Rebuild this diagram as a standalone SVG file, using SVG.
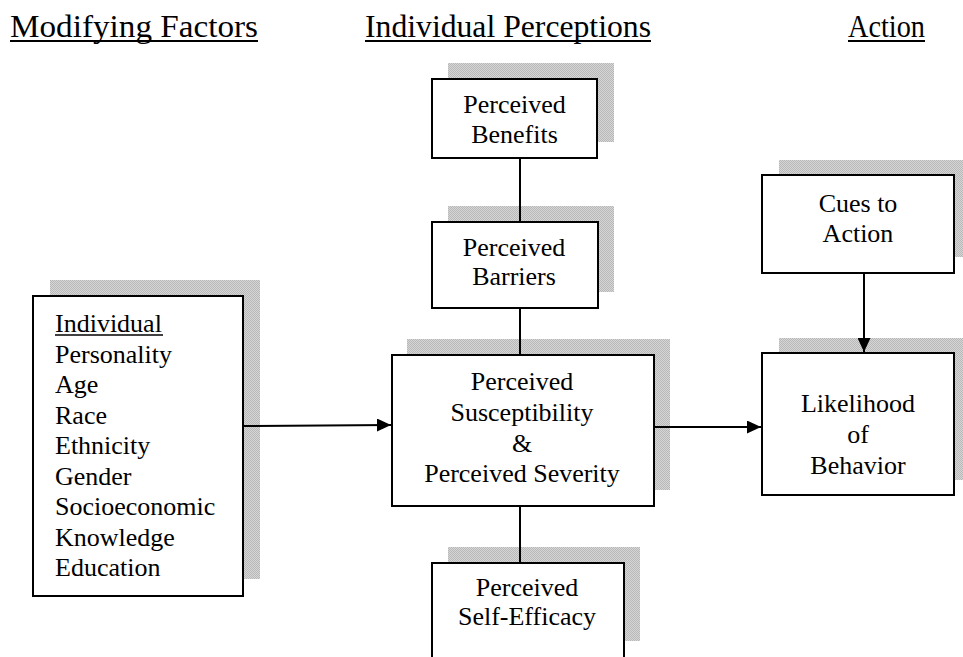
<svg xmlns="http://www.w3.org/2000/svg" width="963" height="657" viewBox="0 0 963 657" font-family="Liberation Serif, DejaVu Serif, serif">
<defs>
<pattern id="dither" width="2" height="2" patternUnits="userSpaceOnUse">
<rect width="2" height="2" fill="#d6d6d6"/>
<rect x="0" y="0" width="1" height="1" fill="#b8b8b8"/>
<rect x="1" y="1" width="1" height="1" fill="#b8b8b8"/>
</pattern>
<marker id="arrow" markerUnits="userSpaceOnUse" markerWidth="15" markerHeight="13" refX="14" refY="6.5" orient="auto">
<path d="M0,0 L14,6.5 L0,13 z" fill="#000"/>
</marker>
<style>
.hdr { font-size: 31px; font-family: 'Liberation Serif', 'DejaVu Serif', serif; }
.lbl { font-size: 26px; font-family: 'Liberation Serif', 'DejaVu Serif', serif; }
.mid { text-anchor: middle; }
.shadow { fill: url(#dither); stroke: none; }
.box { fill: #fff; stroke: #000; stroke-width: 2; }
.conn { stroke: #000; stroke-width: 2; fill: none; }
.ul { stroke: #000; stroke-width: 2; }
</style>
</defs>
<rect width="963" height="657" fill="#fff"/>

<g id="headers" font-family="Liberation Serif, serif">
<text class="hdr" x="10" y="37" textLength="248" lengthAdjust="spacingAndGlyphs">Modifying Factors</text>
<line class="ul" x1="10" y1="41" x2="258" y2="41"/>
<text class="hdr" x="365" y="37" textLength="286" lengthAdjust="spacingAndGlyphs">Individual Perceptions</text>
<line class="ul" x1="365" y1="41" x2="651" y2="41"/>
<text class="hdr" x="848" y="37" textLength="77" lengthAdjust="spacingAndGlyphs">Action</text>
<line class="ul" x1="848" y1="41" x2="925" y2="41"/>
</g>

<g id="benefits" font-family="Liberation Serif, serif">
<rect class="shadow" x="448" y="63" width="166" height="79"/>
<rect class="box" x="432" y="79" width="165" height="79"/>
<text class="lbl mid" x="514.5" y="113">Perceived</text>
<text class="lbl mid" x="514.5" y="143">Benefits</text>
</g>

<g id="barriers" font-family="Liberation Serif, serif">
<rect class="shadow" x="448" y="206" width="166" height="86"/>
<rect class="box" x="432" y="222" width="166" height="86"/>
<text class="lbl mid" x="514" y="256">Perceived</text>
<text class="lbl mid" x="514" y="285">Barriers</text>
</g>

<g id="susceptibility" font-family="Liberation Serif, serif">
<rect class="shadow" x="407" y="339" width="263" height="151"/>
<rect class="box" x="392" y="355" width="262" height="151"/>
<text class="lbl mid" x="522" y="390">Perceived</text>
<text class="lbl mid" x="522" y="421">Susceptibility</text>
<text class="lbl mid" x="522" y="452">&amp;</text>
<text class="lbl mid" x="522" y="482">Perceived Severity</text>
</g>

<g id="selfefficacy" font-family="Liberation Serif, serif">
<rect class="shadow" x="448" y="547" width="192" height="94"/>
<rect class="box" x="432" y="563" width="192" height="120"/>
<text class="lbl mid" x="527" y="596">Perceived</text>
<text class="lbl mid" x="527" y="625">Self-Efficacy</text>
</g>

<g id="modifying" font-family="Liberation Serif, serif">
<rect class="shadow" x="50" y="280" width="210" height="299"/>
<rect class="box" x="33" y="296" width="210" height="300"/>
<text class="lbl" x="55" y="332">Individual</text>
<line x1="55" y1="335" x2="163" y2="335" stroke="#000" stroke-width="1.5"/>
<text class="lbl" x="55" y="362.5">Personality</text>
<text class="lbl" x="55" y="393">Age</text>
<text class="lbl" x="55" y="423.5">Race</text>
<text class="lbl" x="55" y="454">Ethnicity</text>
<text class="lbl" x="55" y="484.5">Gender</text>
<text class="lbl" x="55" y="515">Socioeconomic</text>
<text class="lbl" x="55" y="545.5">Knowledge</text>
<text class="lbl" x="55" y="576">Education</text>
</g>

<g id="cues" font-family="Liberation Serif, serif">
<rect class="shadow" x="779" y="160" width="192" height="97"/>
<rect class="box" x="762" y="175" width="192" height="98"/>
<text class="lbl mid" x="858" y="212">Cues to</text>
<text class="lbl mid" x="858" y="242">Action</text>
</g>

<g id="likelihood" font-family="Liberation Serif, serif">
<rect class="shadow" x="779" y="338" width="192" height="142"/>
<rect class="box" x="762" y="353" width="192" height="142"/>
<text class="lbl mid" x="858" y="412">Likelihood</text>
<text class="lbl mid" x="858" y="443">of</text>
<text class="lbl mid" x="858" y="474">Behavior</text>
</g>

<g id="connectors">
<line class="conn" x1="520" y1="158" x2="520" y2="222"/>
<line class="conn" x1="520" y1="308" x2="520" y2="355"/>
<line class="conn" x1="520" y1="506" x2="520" y2="563"/>
<line class="conn" x1="243" y1="426" x2="391" y2="425" marker-end="url(#arrow)"/>
<line class="conn" x1="654" y1="427" x2="761" y2="427" marker-end="url(#arrow)"/>
<line class="conn" x1="864" y1="273" x2="864" y2="352" marker-end="url(#arrow)"/>
</g>
</svg>
